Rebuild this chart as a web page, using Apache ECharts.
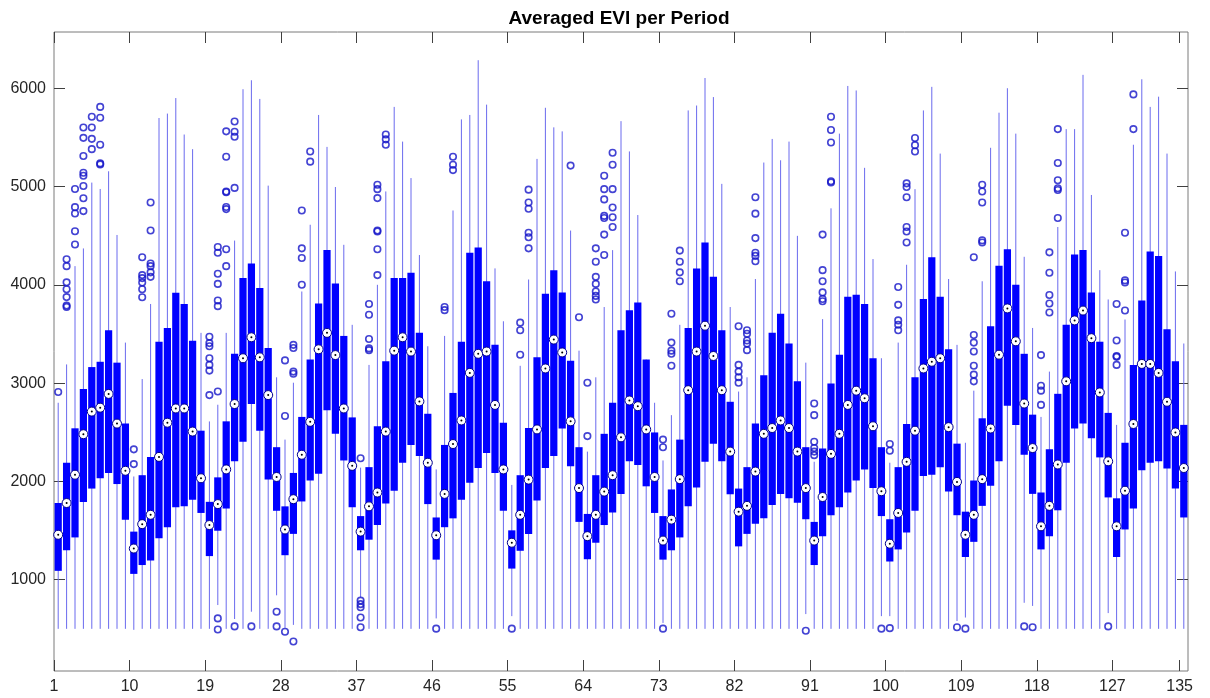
<!DOCTYPE html>
<html><head><meta charset="utf-8">
<script src="https://cdn.jsdelivr.net/npm/echarts@6/dist/echarts.min.js"></script>
<style>html,body{margin:0;padding:0;background:#fff}#c{width:1210px;height:698px}</style>
</head><body><div id="c"></div>
<script>
// ---- data ----
const periods = [];
for (let p = 1; p <= 135; p++) periods.push(String(p));

const xTickValues = [1, 10, 19, 28, 37, 46, 55, 64, 73, 82, 91, 100, 109, 118, 127, 135];
const yTickValues = [1000, 2000, 3000, 4000, 5000, 6000];

const q1 = [
1090,1300,1430,1790,1927,2032,2086,1973,1611,1059,
1149,1194,1421,1534,1737,1746,1814,1679,1240,1498,
1724,2204,2403,2787,2516,2018,1701,1249,1466,1796,
2009,2077,2724,2484,2213,1737,1299,1407,1556,1774,
1905,2190,2371,2258,1769,1204,1534,1624,1814,1986,
2136,2290,2086,1701,1113,1294,1466,1805,2136,2258,
2538,2154,1588,1208,1376,1556,1683,1873,2204,2167,
1950,1679,1204,1299,1430,1746,1937,2199,2384,2204,
1869,1339,1466,1570,1624,1760,1873,1828,1783,1615,
1149,1443,1656,1737,1887,2009,2122,1932,1647,1185,
1308,1479,1701,2054,2068,2145,1896,1656,1231,1385,
1751,1955,2204,2769,2575,2271,1873,1308,1443,1706,
2190,2538,2588,2439,2244,1837,1231,1511,1724,2113,
2190,2204,2131,1927,1633];

const median = [
1457,1780,2068,2480,2710,2750,2890,2588,2108,1317,
1565,1660,2249,2597,2742,2742,2507,2032,1556,1769,
2122,2787,3253,3466,3262,2878,2045,1511,1819,2271,
2606,3344,3511,3285,2742,2158,1489,1746,1887,2507,
3330,3466,3321,2814,2190,1452,1873,2380,2620,3104,
3298,3321,2778,2122,1376,1660,2018,2529,3149,3443,
3312,2611,1932,1443,1660,1896,2063,2448,2823,2765,
2529,2045,1398,1611,2023,2928,3321,3584,3276,2928,
2303,1692,1751,2100,2484,2543,2620,2543,2303,1932,
1398,1841,2280,2484,2778,2923,2846,2561,1900,1366,
1679,2199,2516,3149,3217,3253,2552,1995,1457,1660,
2023,2538,3289,3760,3425,2792,2339,1543,1751,2172,
3018,3638,3738,3457,2905,2204,1543,1905,2584,3195,
3195,3104,2810,2498,2136];

const q3 = [
1780,2190,2540,2940,3163,3217,3538,3208,2588,1489,
2063,2249,3421,3561,3919,3805,3430,2516,1792,2041,
2611,3298,4068,4217,3968,3357,2348,1746,2086,2656,
3240,3810,4353,4014,3480,2651,1647,2145,2561,3222,
4068,4068,4122,3511,2688,1633,2371,2900,3421,4326,
4380,4036,3389,2597,1502,2063,2543,3262,3910,4149,
3923,3227,2348,1669,2063,2484,2801,3538,3742,3819,
3240,2498,1647,1918,2425,3561,4167,4430,4081,3538,
2810,1927,2145,2588,3081,3511,3706,3402,3018,2348,
1588,2335,2995,3289,3878,3900,3805,3253,2348,1615,
2145,2584,3059,3855,4280,3878,3344,2384,1692,2009,
2642,3579,4195,4362,4000,3298,2679,1887,2326,2891,
3593,4308,4353,3923,3421,2697,1828,2393,3185,3841,
4339,4294,3548,3222,2575];

const whiskerHigh = [
2800,3190,4190,4370,5040,4975,5155,4507,3412,2050,
3041,3805,5697,5742,5900,5529,5380,3511,2610,2780,
3511,4450,5990,6081,5891,5009,3059,2425,3004,3932,
4611,5728,5403,4995,4407,3593,2140,3185,4000,4950,
5810,5457,5086,4303,3375,2122,3480,4756,5683,5728,
6285,5833,4167,3629,1964,3176,4054,5281,5801,5602,
5561,4552,3330,2303,3059,3774,4353,5665,5357,4710,
3240,2800,2213,2674,3593,5774,5824,6104,5910,5027,
3774,2914,3059,4059,5244,5484,5267,5457,4498,3208,
2200,3651,4778,5538,6023,5977,5190,4262,3253,2190,
3412,4204,4973,5774,6014,5335,4059,3389,2393,2923,
4036,5394,5751,6000,5538,4285,3561,2656,3117,4588,
5584,5584,6136,4914,4149,3851,2575,3647,5425,6091,
5810,5914,5335,4136,3403];

const whiskerLow = [
500,500,500,500,500,500,500,500,500,490,
500,500,500,500,500,500,500,500,500,742,
500,600,500,674,500,500,841,510,540,500,
500,500,500,500,500,500,820,500,500,500,
500,500,500,500,500,606,500,500,500,500,
500,500,500,500,629,500,500,500,500,500,
500,500,500,500,500,500,500,500,500,500,
500,500,560,500,500,500,500,500,500,500,
500,500,500,500,500,500,500,500,500,650,
500,500,500,500,500,500,500,500,629,629,
500,500,500,500,500,500,500,580,615,500,
500,500,500,500,500,765,733,500,500,500,
500,500,500,500,500,660,500,500,500,500,
500,500,500,500,500];

// outliers keyed by period number
const outliers = {
  1:[2910], 2:[3775,3790,3875,3955,4025,4190,4260], 3:[4410,4545,4725,4790,4975],
  4:[4750,4880,5005,5110,5140,5310,5495,5600], 5:[5380,5485,5600,5710],
  6:[5225,5235,5425,5700,5810], 10:[2176,2326], 11:[3873,3955,4023,4068,4099,4280],
  12:[4081,4127,4190,4217,4552,4837], 19:[2878,3127,3185,3253,3375,3407,3471],
  20:[2914,3783,3841,4009,4113,4326,4384,606,493], 21:[4190,4362,4770,4792,4941,4950,5303,5561],
  22:[4986,5507,5557,5661,525], 24:[525], 27:[674,525], 28:[2665,3231,470],
  29:[3095,3117,3357,3389,371], 30:[4000,4272,4371,4756], 31:[5253,5357],
  37:[2235,787,751,719,615,516], 38:[3335,3353,3448,3696,3805],
  39:[4099,4362,4543,4552,4882,4973,5018], 40:[5425,5480,5529], 46:[502],
  47:[3742,3774], 48:[5167,5222,5303], 55:[502], 56:[3289,3538,3615],
  57:[4371,4484,4529,4774,4837,4968], 62:[5213], 63:[3670], 64:[2461,3004],
  65:[3851,3887,3932,4009,4081,4235,4371], 66:[4303,4511,4679,4701,4869,4973,5109],
  67:[4588,4688,4787,4973,5222,5344], 73:[2348,2425,502], 74:[3176,3298,3330,3412,3706],
  75:[4036,4127,4235,4348], 82:[3004,3059,3117,3185,3579], 83:[3335,3402,3434,3502,3538],
  84:[4240,4294,4326,4475,4724,4891], 90:[480], 91:[2267,2303,2339,2403,2674,2792],
  92:[3833,3855,3923,4036,4149,4511], 93:[5041,5054,5448,5575,5710], 99:[502],
  100:[2312,2380,507], 101:[3538,3593,3638,3796,3977], 102:[4430,4543,4588,4891,4995,5032],
  103:[5357,5421,5493], 108:[516], 109:[502], 110:[3018,3086,3176,3321,3412,3489,4280],
  111:[4430,4452,4837,4950,5018], 116:[525], 117:[516], 118:[2778,2923,2973,3285],
  119:[3719,3810,3896,4122,4330], 120:[4679,4964,4982,5063,5240,5584], 126:[525],
  127:[3185,3267,3276,3434,3805], 128:[3738,4023,4045,4529], 129:[5584,5937]
};

// ---- build ----
const boxData = periods.map((p, i) => [i, whiskerLow[i], q1[i], median[i], q3[i], whiskerHigh[i]]);
const outlierData = [];
Object.keys(outliers).forEach(k => outliers[k].forEach(v => outlierData.push([Number(k) - 1, v])));

const axisColor = '#262626';
const font = 'Liberation Sans';

function renderBox(params, api) {
  const i = api.value(0);
  const pLo = api.coord([i, api.value(1)]);
  const pQ1 = api.coord([i, api.value(2)]);
  const pMed = api.coord([i, api.value(3)]);
  const pQ3 = api.coord([i, api.value(4)]);
  const pHi = api.coord([i, api.value(5)]);
  const x = pMed[0];
  const bw = api.size([1, 0])[0] * 0.86;
  return {
    type: 'group',
    children: [
      { type: 'line', shape: { x1: x, y1: pHi[1], x2: x, y2: pLo[1] },
        style: { stroke: '#6a6aee', lineWidth: 1 } },
      { type: 'rect', shape: { x: x - bw / 2, y: pQ3[1], width: bw, height: pQ1[1] - pQ3[1] },
        style: { fill: '#0000ff' } },
      { type: 'circle', shape: { cx: x, cy: pMed[1], r: 4.5 },
        style: { fill: '#ffffff', stroke: '#00008b', lineWidth: 1 } },
      { type: 'circle', shape: { cx: x, cy: pMed[1], r: 1 },
        style: { fill: '#000000' } }
    ]
  };
}

const chart = echarts.init(document.getElementById('c'));
chart.setOption({
  animation: false,
  backgroundColor: '#ffffff',
  title: {
    text: 'Averaged EVI per Period', left: 614, top: 4, textAlign: 'center',
    textStyle: { fontFamily: font, fontWeight: 'bold', fontSize: 19, color: '#000' }
  },
  grid: { left: 54, right: 22, top: 32, bottom: 27, show: true, borderColor: '#7a7a7a', borderWidth: 1, backgroundColor: 'transparent' },
  xAxis: [
    { type: 'category', data: periods, position: 'bottom', show: false, boundaryGap: true },
    { type: 'value', min: 1, max: 136, position: 'bottom',
      axisLine: { show: false }, splitLine: { show: false },
      axisTick: { show: true, inside: true, length: 11, customValues: xTickValues, lineStyle: { color: '#404040' } },
      axisLabel: { show: true, customValues: xTickValues, formatter: v => String(v), margin: 8,
        color: axisColor, fontSize: 16, fontFamily: font } },
    { type: 'value', min: 1, max: 136, position: 'top',
      axisLine: { show: false }, splitLine: { show: false },
      axisTick: { show: true, inside: true, length: 11, customValues: xTickValues, lineStyle: { color: '#404040' } },
      axisLabel: { show: false } }
  ],
  yAxis: [
    { type: 'value', min: 71, max: 6572, position: 'left',
      axisLine: { show: false }, splitLine: { show: false },
      axisTick: { show: true, inside: true, length: 11, customValues: yTickValues, lineStyle: { color: '#404040' } },
      axisLabel: { show: true, customValues: yTickValues, formatter: v => String(v), margin: 8,
        color: axisColor, fontSize: 16, fontFamily: font } },
    { type: 'value', min: 71, max: 6572, position: 'right',
      axisLine: { show: false }, splitLine: { show: false },
      axisTick: { show: true, inside: true, length: 11, customValues: yTickValues, lineStyle: { color: '#404040' } },
      axisLabel: { show: false } }
  ],
  series: [
    { type: 'custom', name: 'EVI', xAxisIndex: 0, yAxisIndex: 0,
      renderItem: renderBox, encode: { x: 0, y: [1, 2, 3, 4, 5] }, data: boxData, z: 2 },
    { type: 'scatter', name: 'Outliers', xAxisIndex: 0, yAxisIndex: 0, data: outlierData,
      symbol: 'circle', symbolSize: 6.5,
      itemStyle: { color: 'rgba(0,0,0,0)', borderColor: '#1414c8', borderWidth: 1.6 }, z: 3 }
  ]
});
</script>
</body></html>
